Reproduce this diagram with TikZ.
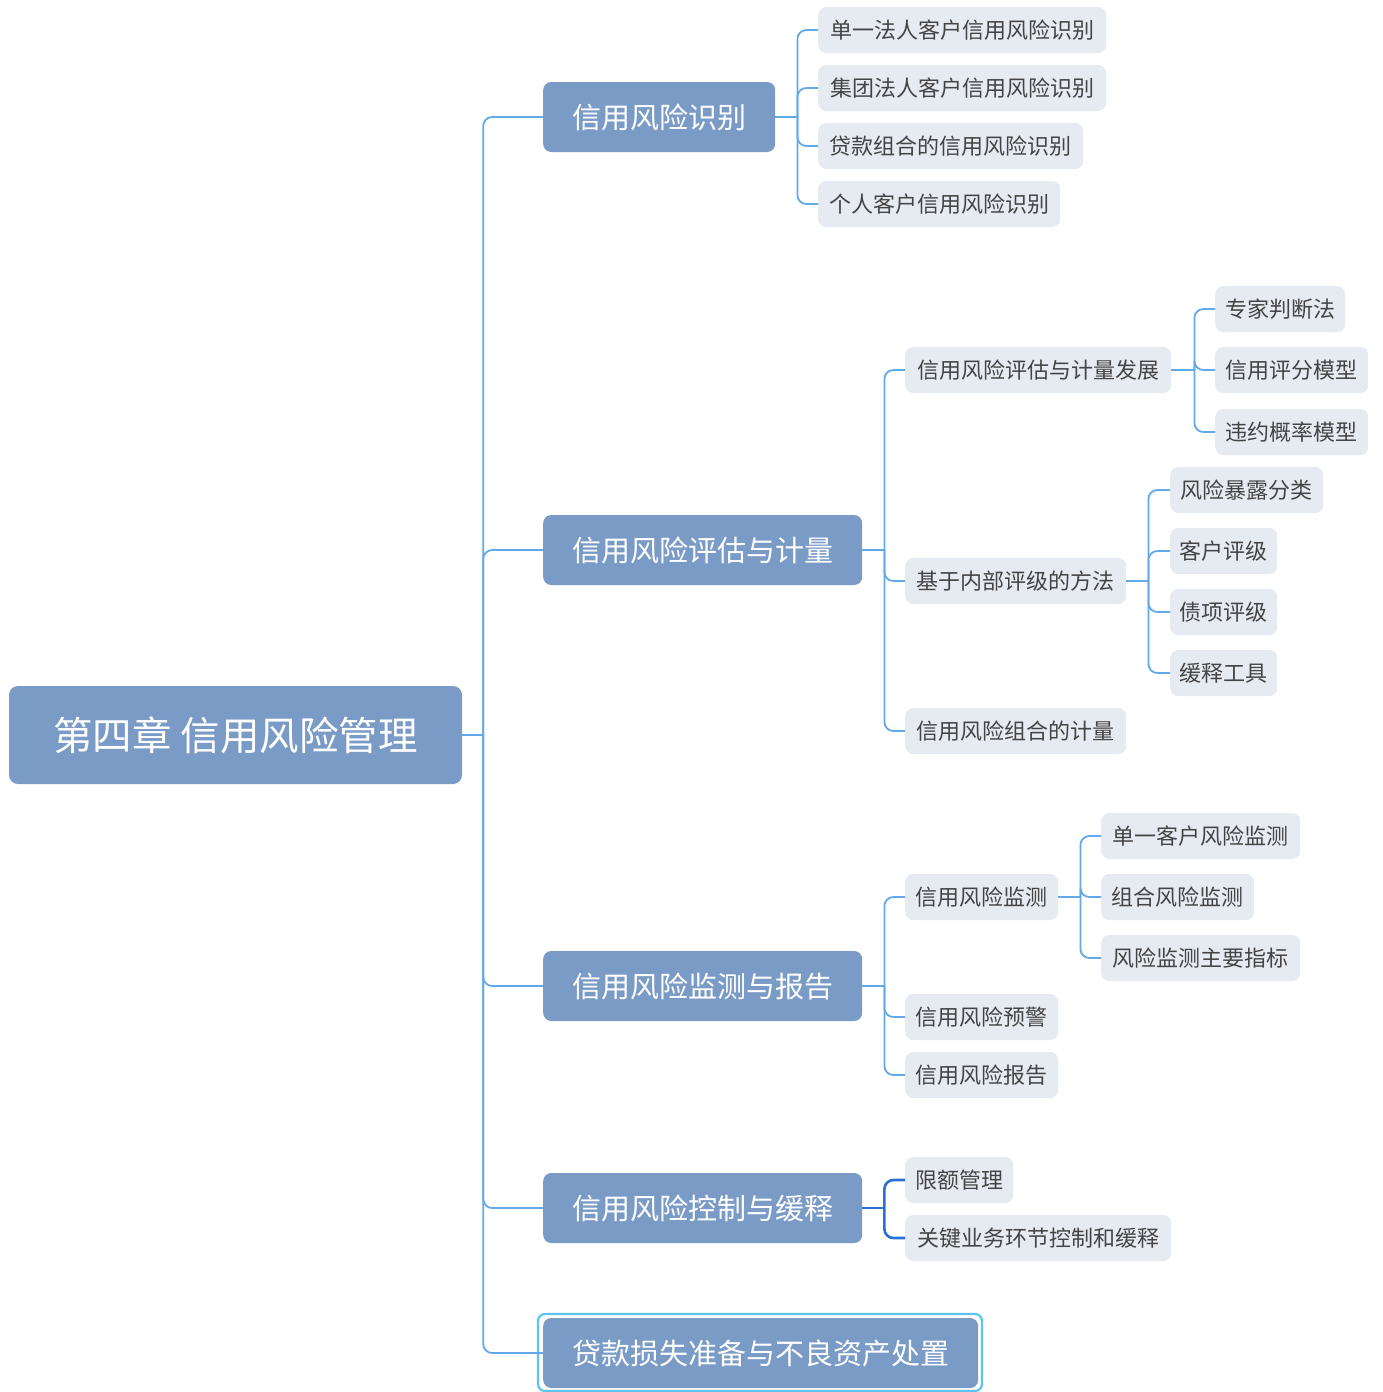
\documentclass[tikz,border=0pt]{standalone}
\usepackage{fontspec}
\newfontfamily\cjk{Noto Sans CJK SC}
\usetikzlibrary{calc}
\definecolor{mainfill}{HTML}{7B9BC7}
\definecolor{subfill}{HTML}{E6EBF2}
\definecolor{subtext}{HTML}{444444}
\definecolor{conn}{HTML}{62A9EA}
\definecolor{conndark}{HTML}{2A70D4}
\definecolor{selcol}{HTML}{5CC4F2}
\tikzset{
  rootbox/.style={fill=mainfill, rounded corners=9pt, minimum width=453pt, minimum height=98pt, inner sep=0pt, text=white, font=\cjk\fontsize{39.5}{39.5}\selectfont},
  topbox/.style={fill=mainfill, rounded corners=8pt, minimum height=70pt, inner sep=0pt, text=white, anchor=west, font=\cjk\fontsize{29}{29}\selectfont},
  subbox/.style={fill=subfill, rounded corners=8pt, minimum height=46pt, inner sep=0pt, text=subtext, anchor=west, font=\cjk\fontsize{22}{22}\selectfont},
  link/.style={draw=conn, line width=1.8pt, rounded corners=9pt},
  linkdark/.style={draw=conndark, line width=2.6pt, rounded corners=9pt},
}
\begin{document}
\begin{tikzpicture}[x=1pt,y=-1pt]
\useasboundingbox (0,0) rectangle (1383,1392);
\fill[white] (0,0) rectangle (1383,1392);

% root
\node[rootbox] (root) at (235.5,735) {第四章 信用风险管理};

% level 1
\node[topbox, minimum width=232pt] (a) at (543,117) {信用风险识别};
\node[topbox, minimum width=319pt] (b) at (543,550) {信用风险评估与计量};
\node[topbox, minimum width=319pt] (c) at (543,986) {信用风险监测与报告};
\node[topbox, minimum width=319pt] (d) at (543,1208) {信用风险控制与缓释};
\node[topbox, minimum width=435pt] (e) at (543,1353) {贷款损失准备与不良资产处置};
\draw[selcol, line width=2.2pt, rounded corners=7pt] (538,1314) rectangle (982,1391);

% level 2 under a
\node[subbox, minimum width=288pt] (a1) at (818,30) {单一法人客户信用风险识别};
\node[subbox, minimum width=288pt] (a2) at (818,88) {集团法人客户信用风险识别};
\node[subbox, minimum width=265pt] (a3) at (818,146) {贷款组合的信用风险识别};
\node[subbox, minimum width=242pt] (a4) at (818,204) {个人客户信用风险识别};

% level 2 under b
\node[subbox, minimum width=266pt] (b1) at (905,370) {信用风险评估与计量发展};
\node[subbox, minimum width=221pt] (b2) at (905,581) {基于内部评级的方法};
\node[subbox, minimum width=221pt] (b3) at (905,731) {信用风险组合的计量};

\node[subbox, minimum width=130pt] (b11) at (1215,309) {专家判断法};
\node[subbox, minimum width=153pt] (b12) at (1215,370) {信用评分模型};
\node[subbox, minimum width=153pt] (b13) at (1215,432) {违约概率模型};

\node[subbox, minimum width=153pt] (b21) at (1170,490) {风险暴露分类};
\node[subbox, minimum width=107pt] (b22) at (1170,551) {客户评级};
\node[subbox, minimum width=107pt] (b23) at (1170,612) {债项评级};
\node[subbox, minimum width=107pt] (b24) at (1170,673) {缓释工具};

% level 2 under c
\node[subbox, minimum width=153pt] (c1) at (905,897) {信用风险监测};
\node[subbox, minimum width=153pt] (c2) at (905,1017) {信用风险预警};
\node[subbox, minimum width=153pt] (c3) at (905,1075) {信用风险报告};

\node[subbox, minimum width=199pt] (c11) at (1101,836) {单一客户风险监测};
\node[subbox, minimum width=153pt] (c12) at (1101,897) {组合风险监测};
\node[subbox, minimum width=199pt] (c13) at (1101,958) {风险监测主要指标};

% level 2 under d
\node[subbox, minimum width=108pt] (d1) at (905,1180) {限额管理};
\node[subbox, minimum width=266pt] (d2) at (905,1238) {关键业务环节控制和缓释};

% connectors: trunk
\coordinate (rt) at ($(root.east)+(21,0)$);
\draw[link] (root.east) -- (rt);
\foreach \n in {a,b,c,d,e} { \draw[link] (rt) |- (\n.west); }

% a
\coordinate (at) at ($(a.east)+(22,0)$);
\draw[link] (a.east) -- (at);
\foreach \n in {a1,a2,a3,a4} { \draw[link] (at) |- (\n.west); }

% b
\coordinate (bt) at ($(b.east)+(22,0)$);
\draw[link] (b.east) -- (bt);
\foreach \n in {b1,b2,b3} { \draw[link] (bt) |- (\n.west); }
\coordinate (b1t) at ($(b1.east)+(23,0)$);
\draw[link] (b1.east) -- (b1t);
\foreach \n in {b11,b12,b13} { \draw[link] (b1t) |- (\n.west); }
\coordinate (b2t) at ($(b2.east)+(22,0)$);
\draw[link] (b2.east) -- (b2t);
\foreach \n in {b21,b22,b23,b24} { \draw[link] (b2t) |- (\n.west); }

% c
\coordinate (ct) at ($(c.east)+(22,0)$);
\draw[link] (c.east) -- (ct);
\foreach \n in {c1,c2,c3} { \draw[link] (ct) |- (\n.west); }
\coordinate (c1t) at ($(c1.east)+(22,0)$);
\draw[link] (c1.east) -- (c1t);
\foreach \n in {c11,c12,c13} { \draw[link] (c1t) |- (\n.west); }

% d
\coordinate (dt) at ($(d.east)+(22,0)$);
\draw[linkdark] (d.east) -- (dt);
\foreach \n in {d1,d2} { \draw[linkdark] (dt) |- (\n.west); }
\end{tikzpicture}
\end{document}
